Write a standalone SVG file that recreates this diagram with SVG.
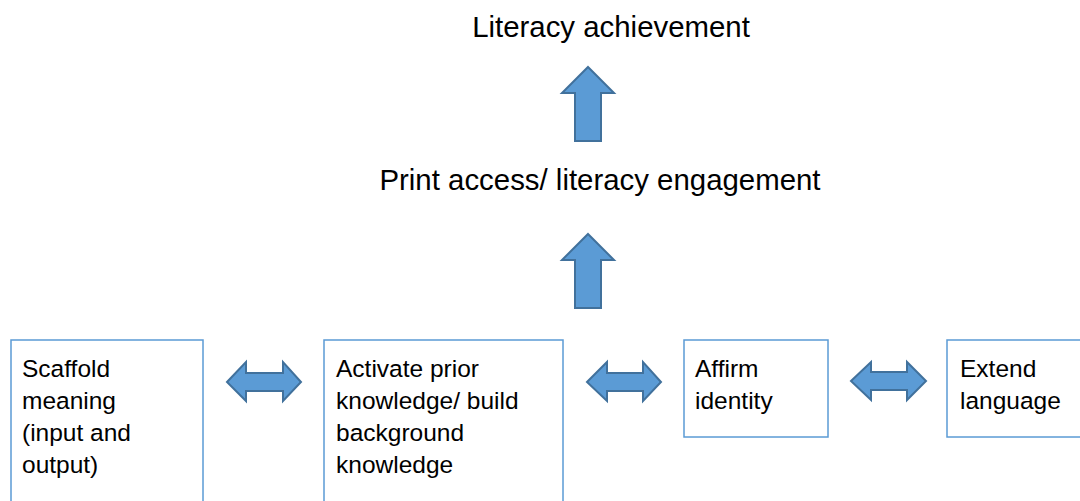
<svg xmlns="http://www.w3.org/2000/svg" width="1080" height="501" viewBox="0 0 1080 501">
<style>
.t{font-family:"Liberation Sans",Arial,sans-serif;fill:#000}
.title{font-size:29.4px}
.lbl{font-size:24.5px}
.box{fill:#fff;stroke:#5b9bd5;stroke-width:1.5}
.arr{fill:#5b9bd5;stroke:#41719c;stroke-width:2;stroke-linejoin:miter}
</style>
<rect width="1080" height="501" fill="#fff"/>
<g id="literacy-achievement"><text class="t title" x="611" y="37" text-anchor="middle">Literacy achievement</text></g>
<g id="print-access"><text class="t title" x="600" y="190" text-anchor="middle">Print access/ literacy engagement</text></g>
<g id="scaffold"><rect class="box" x="11" y="340" width="192" height="175"/>
<text class="t lbl" x="22" y="377">Scaffold</text><text class="t lbl" x="22" y="409">meaning</text><text class="t lbl" x="22" y="441">(input and</text><text class="t lbl" x="22" y="473">output)</text></g>
<g id="activate"><rect class="box" x="324" y="340" width="239" height="175"/>
<text class="t lbl" x="336" y="377">Activate prior</text><text class="t lbl" x="336" y="409">knowledge/ build</text><text class="t lbl" x="336" y="441">background</text><text class="t lbl" x="336" y="473">knowledge</text></g>
<g id="affirm"><rect class="box" x="684" y="340" width="144" height="97"/>
<text class="t lbl" x="695" y="377">Affirm</text><text class="t lbl" x="695" y="409">identity</text></g>
<g id="extend"><rect class="box" x="947" y="340" width="145" height="97"/>
<text class="t lbl" x="960" y="377">Extend</text><text class="t lbl" x="960" y="409">language</text></g>
<g id="connectors">
<path class="arr" d="M588 67 L614 93 L601 93 L601 141 L575 141 L575 93 L562 93 Z"/>
<path class="arr" d="M588 234 L614 260 L601 260 L601 308 L575 308 L575 260 L562 260 Z"/>
<path class="arr" d="M227 382 L246 362 L246 373 L283 373 L283 362 L301 382 L283 401 L283 391 L246 391 L246 401 Z"/>
<path class="arr" d="M587 382 L607 362 L607 373 L643 373 L643 362 L661 382 L643 401 L643 391 L607 391 L607 401 Z"/>
<path class="arr" d="M851 381 L871 362 L871 372 L907 372 L907 362 L926 381 L907 400 L907 390 L871 390 L871 400 Z"/>
</g>
</svg>
